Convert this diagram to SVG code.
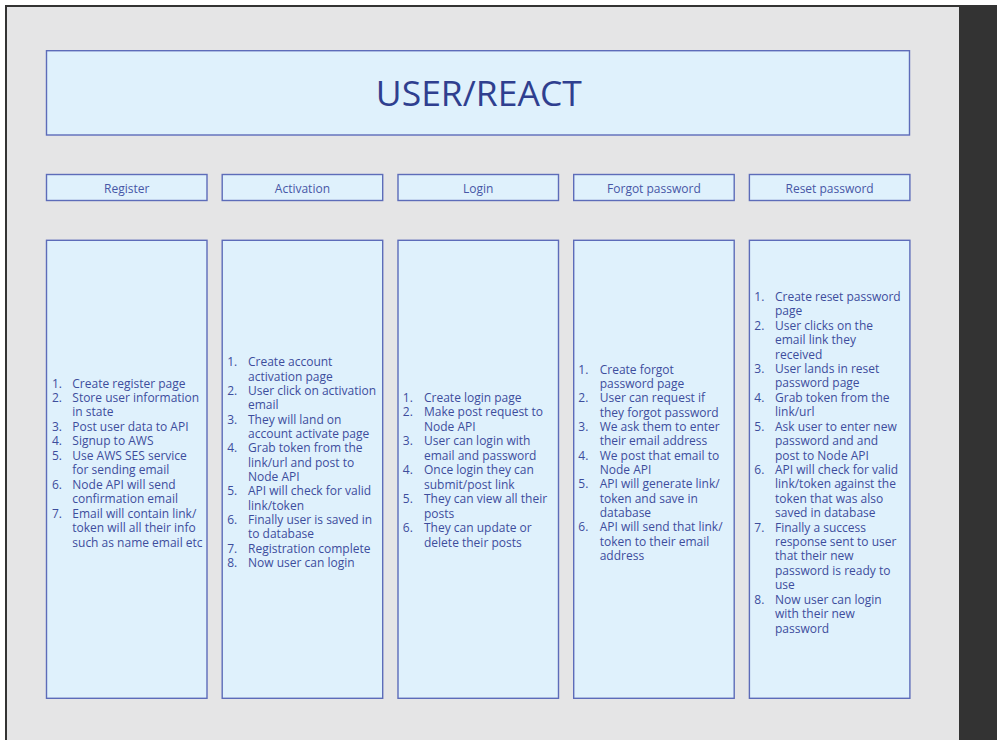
<svg xmlns="http://www.w3.org/2000/svg" width="997" height="740" viewBox="0 0 997 740">
<style>
.box{fill:#dff1fc;stroke:#5d6cb9;stroke-width:1.4}
.t{font-family:"Open Sans","Noto Sans","Liberation Sans",sans-serif;fill:#3d4d9c}
.li{font-size:12px}
.hd{font-size:12px;text-anchor:middle;fill:#4757a6}
.title{font-size:35.5px;text-anchor:middle;fill:#2f3f8f}
</style>
<rect x="0" y="0" width="997" height="740" fill="#ffffff"/>
<rect x="5" y="5" width="992" height="735" fill="#333333"/>
<rect x="7" y="7" width="952" height="733" fill="#e5e5e6"/>

<g id="title">
<rect class="box" x="46.5" y="50.7" width="863" height="84.3"/>
<text class="t title" x="478.8" y="106">USER/REACT</text>
</g>

<g id="register">
<rect class="box" x="46.5" y="174.5" width="160.5" height="26"/>
<text class="t hd" x="126.7" y="192.6">Register</text>
<rect class="box" x="46.5" y="240.3" width="160.5" height="458"/>
<text class="t li" y="387.5">
<tspan x="52">1.</tspan><tspan x="72.3">Create register page</tspan>
<tspan x="52" dy="14.49">2.</tspan><tspan x="72.3">Store user information</tspan>
<tspan x="72.3" dy="14.49">in state</tspan>
<tspan x="52" dy="14.49">3.</tspan><tspan x="72.3">Post user data to API</tspan>
<tspan x="52" dy="14.49">4.</tspan><tspan x="72.3">Signup to AWS</tspan>
<tspan x="52" dy="14.49">5.</tspan><tspan x="72.3">Use AWS SES service</tspan>
<tspan x="72.3" dy="14.49">for sending email</tspan>
<tspan x="52" dy="14.49">6.</tspan><tspan x="72.3">Node API will send</tspan>
<tspan x="72.3" dy="14.49">confirmation email</tspan>
<tspan x="52" dy="14.49">7.</tspan><tspan x="72.3">Email will contain link/</tspan>
<tspan x="72.3" dy="14.49">token will all their info</tspan>
<tspan x="72.3" dy="14.49">such as name email etc</tspan>
</text>
</g>

<g id="activation">
<rect class="box" x="222.2" y="174.5" width="160.5" height="26"/>
<text class="t hd" x="302.4" y="192.6">Activation</text>
<rect class="box" x="222.2" y="240.3" width="160.5" height="458"/>
<text class="t li" y="366.2">
<tspan x="227.2">1.</tspan><tspan x="248">Create account</tspan>
<tspan x="248" dy="14.34">activation page</tspan>
<tspan x="227.2" dy="14.34">2.</tspan><tspan x="248">User click on activation</tspan>
<tspan x="248" dy="14.34">email</tspan>
<tspan x="227.2" dy="14.34">3.</tspan><tspan x="248">They will land on</tspan>
<tspan x="248" dy="14.34">account activate page</tspan>
<tspan x="227.2" dy="14.34">4.</tspan><tspan x="248">Grab token from the</tspan>
<tspan x="248" dy="14.34">link/url and post to</tspan>
<tspan x="248" dy="14.34">Node API</tspan>
<tspan x="227.2" dy="14.34">5.</tspan><tspan x="248">API will check for valid</tspan>
<tspan x="248" dy="14.34">link/token</tspan>
<tspan x="227.2" dy="14.34">6.</tspan><tspan x="248">Finally user is saved in</tspan>
<tspan x="248" dy="14.34">to database</tspan>
<tspan x="227.2" dy="14.34">7.</tspan><tspan x="248">Registration complete</tspan>
<tspan x="227.2" dy="14.34">8.</tspan><tspan x="248">Now user can login</tspan>
</text>
</g>

<g id="login">
<rect class="box" x="398" y="174.5" width="160.5" height="26"/>
<text class="t hd" x="478.2" y="192.6">Login</text>
<rect class="box" x="398" y="240.3" width="160.5" height="458"/>
<text class="t li" y="401.5">
<tspan x="402.8">1.</tspan><tspan x="424">Create login page</tspan>
<tspan x="402.8" dy="14.5">2.</tspan><tspan x="424">Make post request to</tspan>
<tspan x="424" dy="14.5">Node API</tspan>
<tspan x="402.8" dy="14.5">3.</tspan><tspan x="424">User can login with</tspan>
<tspan x="424" dy="14.5">email and password</tspan>
<tspan x="402.8" dy="14.5">4.</tspan><tspan x="424">Once login they can</tspan>
<tspan x="424" dy="14.5">submit/post link</tspan>
<tspan x="402.8" dy="14.5">5.</tspan><tspan x="424">They can view all their</tspan>
<tspan x="424" dy="14.5">posts</tspan>
<tspan x="402.8" dy="14.5">6.</tspan><tspan x="424">They can update or</tspan>
<tspan x="424" dy="14.5">delete their posts</tspan>
</text>
</g>

<g id="forgot-password">
<rect class="box" x="573.7" y="174.5" width="160.5" height="26"/>
<text class="t hd" x="653.9" y="192.6">Forgot password</text>
<rect class="box" x="573.7" y="240.3" width="160.5" height="458"/>
<text class="t li" y="373.5">
<tspan x="578.3">1.</tspan><tspan x="599.7">Create forgot</tspan>
<tspan x="599.7" dy="14.36">password page</tspan>
<tspan x="578.3" dy="14.36">2.</tspan><tspan x="599.7">User can request if</tspan>
<tspan x="599.7" dy="14.36">they forgot password</tspan>
<tspan x="578.3" dy="14.36">3.</tspan><tspan x="599.7">We ask them to enter</tspan>
<tspan x="599.7" dy="14.36">their email address</tspan>
<tspan x="578.3" dy="14.36">4.</tspan><tspan x="599.7">We post that email to</tspan>
<tspan x="599.7" dy="14.36">Node API</tspan>
<tspan x="578.3" dy="14.36">5.</tspan><tspan x="599.7">API will generate link/</tspan>
<tspan x="599.7" dy="14.36">token and save in</tspan>
<tspan x="599.7" dy="14.36">database</tspan>
<tspan x="578.3" dy="14.36">6.</tspan><tspan x="599.7">API will send that link/</tspan>
<tspan x="599.7" dy="14.36">token to their email</tspan>
<tspan x="599.7" dy="14.36">address</tspan>
</text>
</g>

<g id="reset-password">
<rect class="box" x="749.4" y="174.5" width="160.5" height="26"/>
<text class="t hd" x="829.6" y="192.6">Reset password</text>
<rect class="box" x="749.4" y="240.3" width="160.5" height="458"/>
<text class="t li" y="300.9">
<tspan x="754.3">1.</tspan><tspan x="775">Create reset password</tspan>
<tspan x="775" dy="14.42">page</tspan>
<tspan x="754.3" dy="14.42">2.</tspan><tspan x="775">User clicks on the</tspan>
<tspan x="775" dy="14.42">email link they</tspan>
<tspan x="775" dy="14.42">received</tspan>
<tspan x="754.3" dy="14.42">3.</tspan><tspan x="775">User lands in reset</tspan>
<tspan x="775" dy="14.42">password page</tspan>
<tspan x="754.3" dy="14.42">4.</tspan><tspan x="775">Grab token from the</tspan>
<tspan x="775" dy="14.42">link/url</tspan>
<tspan x="754.3" dy="14.42">5.</tspan><tspan x="775">Ask user to enter new</tspan>
<tspan x="775" dy="14.42">password and and</tspan>
<tspan x="775" dy="14.42">post to Node API</tspan>
<tspan x="754.3" dy="14.42">6.</tspan><tspan x="775">API will check for valid</tspan>
<tspan x="775" dy="14.42">link/token against the</tspan>
<tspan x="775" dy="14.42">token that was also</tspan>
<tspan x="775" dy="14.42">saved in database</tspan>
<tspan x="754.3" dy="14.42">7.</tspan><tspan x="775">Finally a success</tspan>
<tspan x="775" dy="14.42">response sent to user</tspan>
<tspan x="775" dy="14.42">that their new</tspan>
<tspan x="775" dy="14.42">password is ready to</tspan>
<tspan x="775" dy="14.42">use</tspan>
<tspan x="754.3" dy="14.42">8.</tspan><tspan x="775">Now user can login</tspan>
<tspan x="775" dy="14.42">with their new</tspan>
<tspan x="775" dy="14.42">password</tspan>
</text>
</g>

<g id="connectors"></g>
</svg>
